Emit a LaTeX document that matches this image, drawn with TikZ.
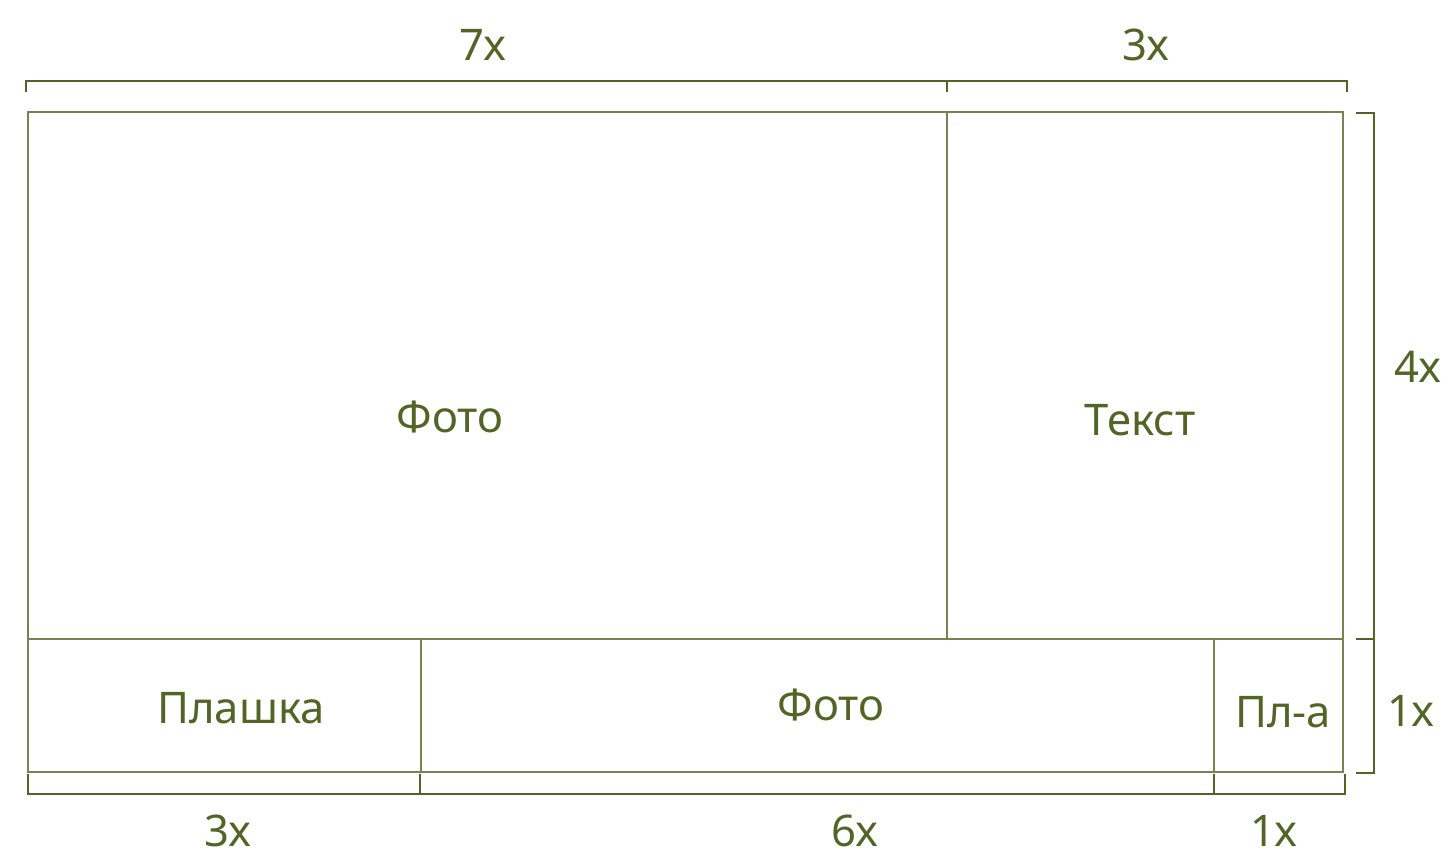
\documentclass[tikz,border=0pt]{standalone}
\usepackage{fontspec}
\setmainfont{Noto Sans}
\definecolor{layoutgreen}{HTML}{536526}
\tikzset{
  frame/.style={draw=layoutgreen!80, line width=0.055cm},
  dimline/.style={draw=layoutgreen, line width=0.065cm},
  lbl/.style={text=layoutgreen, font=\fontsize{62}{68}\selectfont, inner sep=0pt}
}
\begin{document}
\begin{tikzpicture}[x=0.05cm,y=-0.05cm]
  \useasboundingbox (0,0) rectangle (1450,856);
  % grid of the layout
  \coordinate (tl) at (28,112);
  \coordinate (br) at (1343,772);
  \draw[frame] (tl) rectangle (br);
  \draw[frame] (28,639) -- (1343,639);
  \draw[frame] (947,112) -- (947,639);
  \draw[frame] (421,639) -- (421,772);
  \draw[frame] (1214,639) -- (1214,772);
  \node[lbl] (photobig) at (450,417) {Фото};
  \node[lbl] (text) at (1140,420) {Текст};
  \node[lbl] (plate) at (241,708) {Плашка};
  \node[lbl] (photosmall) at (831,705) {Фото};
  \node[lbl] (platesmall) at (1283,712) {Пл-а};
  % top dimensions
  \draw[dimline] (26,92) -- (26,81) -- (1347,81) -- (1347,92);
  \draw[dimline] (947,81) -- (947,92);
  \node[lbl] (topseven) at (483,45) {7x};
  \node[lbl] (topthree) at (1146,45) {3x};
  % bottom dimensions
  \draw[dimline] (28,774) -- (28,794) -- (1345,794) -- (1345,774);
  \draw[dimline] (420,774) -- (420,794);
  \draw[dimline] (1214,774) -- (1214,794);
  \node[lbl] (botthree) at (228,831) {3x};
  \node[lbl] (botsix) at (855,831) {6x};
  \node[lbl] (botone) at (1274,831) {1x};
  % right dimensions
  \draw[dimline] (1356,113) -- (1374,113) -- (1374,773) -- (1356,773);
  \draw[dimline] (1356,639) -- (1374,639);
  \node[lbl] (rightfour) at (1418,367) {4x};
  \node[lbl] (rightone) at (1411,711) {1x};
\end{tikzpicture}
\end{document}
